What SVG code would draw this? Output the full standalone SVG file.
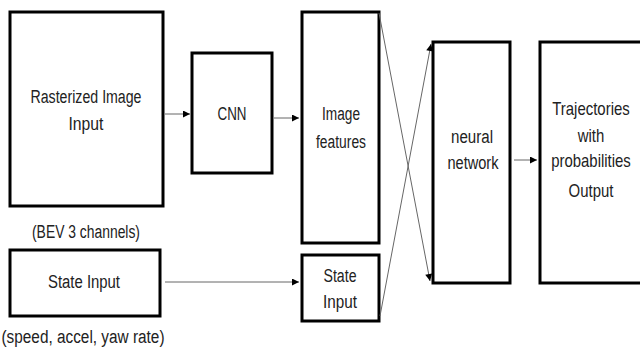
<svg xmlns="http://www.w3.org/2000/svg" width="640" height="350" viewBox="0 0 640 350">
  <style>
    .box { fill: #ffffff; stroke: #000000; stroke-width: 3; }
    .lbl { font-family: "Liberation Sans", Arial, sans-serif; font-size: 18px; fill: #222222; text-anchor: middle; }
    .edge { stroke: #666666; stroke-width: 1; fill: none; marker-end: url(#arrow); }
  </style>
  <defs>
    <marker id="arrow" viewBox="0 0 10 10" refX="10" refY="5" markerWidth="8" markerHeight="7" markerUnits="userSpaceOnUse" orient="auto">
      <path d="M0,0 L10,5 L0,10 z" fill="#000000"/>
    </marker>
  </defs>

  <!-- labels are narrowed with textLength to give a condensed face -->
  <g id="raster-input">
    <rect class="box" x="10" y="12" width="153" height="194"/>
    <text class="lbl" x="86" y="103" textLength="111" lengthAdjust="spacingAndGlyphs">Rasterized Image</text>
    <text class="lbl" x="86" y="130" textLength="35" lengthAdjust="spacingAndGlyphs">Input</text>
    <text class="lbl" x="86" y="238" textLength="108" lengthAdjust="spacingAndGlyphs">(BEV 3 channels)</text>
  </g>

  <g id="cnn">
    <rect class="box" x="192" y="53" width="80" height="120"/>
    <text class="lbl" x="232" y="120" textLength="29" lengthAdjust="spacingAndGlyphs">CNN</text>
  </g>

  <g id="image-features">
    <rect class="box" x="302" y="12" width="77" height="231"/>
    <text class="lbl" x="341" y="120" textLength="38" lengthAdjust="spacingAndGlyphs">Image</text>
    <text class="lbl" x="341" y="148" textLength="50" lengthAdjust="spacingAndGlyphs">features</text>
  </g>

  <g id="state-input">
    <rect class="box" x="10" y="250" width="150" height="66"/>
    <text class="lbl" x="84" y="288" textLength="72" lengthAdjust="spacingAndGlyphs">State Input</text>
    <text class="lbl" x="83" y="343" textLength="163" lengthAdjust="spacingAndGlyphs">(speed, accel, yaw rate)</text>
  </g>

  <g id="state-input-small">
    <rect class="box" x="302" y="255" width="77" height="66"/>
    <text class="lbl" x="340" y="282" textLength="33" lengthAdjust="spacingAndGlyphs">State</text>
    <text class="lbl" x="340" y="308" textLength="34" lengthAdjust="spacingAndGlyphs">Input</text>
  </g>

  <g id="neural-network">
    <rect class="box" x="433" y="42" width="77" height="241"/>
    <text class="lbl" x="472" y="143" textLength="42" lengthAdjust="spacingAndGlyphs">neural</text>
    <text class="lbl" x="473" y="169" textLength="51" lengthAdjust="spacingAndGlyphs">network</text>
  </g>

  <!-- right edge runs past the canvas; labels condensed by a horizontal scale -->
  <g id="trajectories-output">
    <rect class="box" x="540" y="42" width="110" height="241"/>
    <g transform="translate(591,0) scale(0.83,1)">
      <text class="lbl" x="0" y="115">Trajectories</text>
      <text class="lbl" x="0" y="142">with</text>
      <text class="lbl" x="0" y="167">probabilities</text>
      <text class="lbl" x="0" y="197">Output</text>
    </g>
  </g>

  <g id="connectors">
    <line class="edge" x1="165" y1="114" x2="190" y2="114"/>
    <line class="edge" x1="274" y1="118" x2="299" y2="118"/>
    <line class="edge" x1="165" y1="282" x2="299" y2="282"/>
    <line class="edge" x1="379" y1="13" x2="430" y2="281"/>
    <line class="edge" x1="380" y1="316" x2="431" y2="44"/>
    <line class="edge" x1="514" y1="160" x2="537" y2="160"/>
  </g>
</svg>
